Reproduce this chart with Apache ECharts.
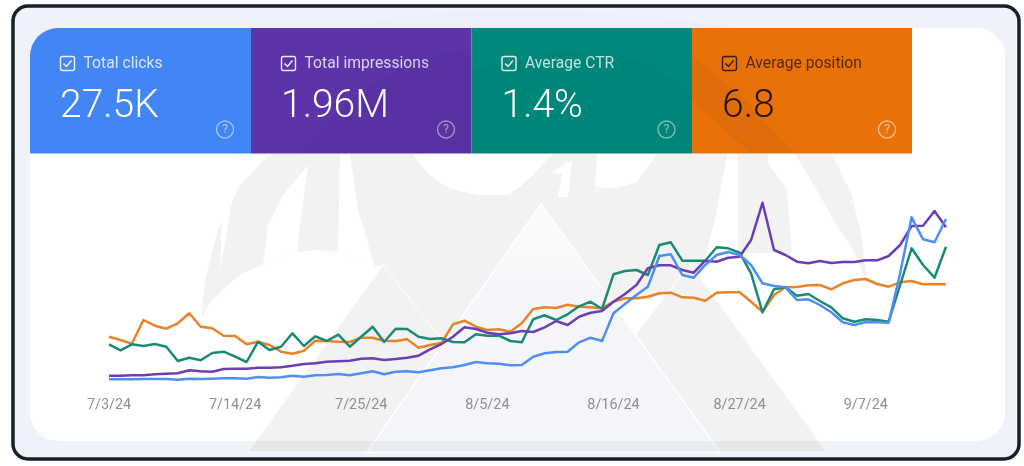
<!DOCTYPE html>
<html>
<head>
<meta charset="utf-8">
<title>Search performance</title>
<script src="https://cdn.jsdelivr.net/npm/echarts@6/dist/echarts.min.js"></script>
<style>
html,body{margin:0;padding:0;background:#fff}
#main{width:1024px;height:466px}
</style>
</head>
<body>
<div id="main"></div>
<script>
// dates on the x axis, one per day
var dates = ['7/3/24','7/4/24','7/5/24','7/6/24','7/7/24','7/8/24','7/9/24','7/10/24','7/11/24','7/12/24','7/13/24','7/14/24','7/15/24','7/16/24','7/17/24','7/18/24','7/19/24','7/20/24','7/21/24','7/22/24','7/23/24','7/24/24','7/25/24','7/26/24','7/27/24','7/28/24','7/29/24','7/30/24','7/31/24',
'8/1/24','8/2/24','8/3/24','8/4/24','8/5/24','8/6/24','8/7/24','8/8/24','8/9/24','8/10/24','8/11/24','8/12/24','8/13/24','8/14/24','8/15/24','8/16/24','8/17/24','8/18/24','8/19/24','8/20/24','8/21/24','8/22/24','8/23/24','8/24/24','8/25/24','8/26/24','8/27/24','8/28/24','8/29/24','8/30/24','8/31/24',
'9/1/24','9/2/24','9/3/24','9/4/24','9/5/24','9/6/24','9/7/24','9/8/24','9/9/24','9/10/24','9/11/24','9/12/24','9/13/24','9/14/24'];

// all on one hidden scale
var clicks = [20.7,20.7,20.7,21,21,21,20.3,21.3,21,21.3,21.7,21.7,21.3,23,22.3,22.7,24.3,23.3,24.7,25,26,24.7,26.7,28.7,25.7,28.3,28.7,27.7,29.7,31.7,32.7,35,38,36.7,36.3,34.7,35,43.3,46.7,48,48.3,57.7,62.3,59,86.7,96,105,113.3,144,145.7,125,122.3,135,145,148,145,135,116.7,114,112.7,100,100.7,95,87.7,77.7,75,78,77.7,77.3,126.7,182.7,160.7,157.7,181];
var impressions = [24.3,24.3,24.7,24.7,25.7,26.3,26.7,29.7,28.7,28.3,31,31.3,31.3,32.3,32.3,32.7,34.3,36,36.7,38.3,38.7,39.3,41.3,41.7,40,41,42.3,44.3,50.7,56,63.3,72.7,71,67.3,65.7,66.7,69,68,72.7,79,75,83.3,87.3,89,98.3,106,115,131.7,134.7,134.7,130,127.3,139.3,138.3,142.3,143.3,160,197.3,150,145,138.3,136.7,139,137,138,138,139.7,139.7,144,155,174,174.3,189,172.7];
var ctr = [55.7,49.7,55.7,54,56,53.3,39,42.3,39.7,47,48.3,43.3,38,58.3,50,53.3,66.7,54,63.7,59,65.3,53.3,63.3,73.3,58,71.3,71,63.3,61,61.7,58,57.7,65.7,64.3,64.3,59,57.7,80.7,84.7,80,85.7,93.7,98.3,91,125.7,129,130,125,155,157.7,139.3,139.3,139.3,152.7,151.7,147.3,126.7,87.7,110.7,112.7,104.3,106,99,92.7,81.7,78.3,80.7,80,78.3,115,151.7,135,122.3,153.3];
var position = [63.3,60,56.3,80,74.3,71.3,76.7,86.7,73.3,71.7,64.3,64,55.7,58.3,55,48.3,46.3,49.3,59.3,59,58.3,58,62.3,62.3,59.3,59,60.7,52.3,55,57,75.7,79.3,73.3,70,70.7,68.3,76.7,91,92.7,92,95.3,93.3,92.7,91.7,98.3,101.7,101.7,103.3,106.7,107.3,102.7,102.3,99.3,107.3,107.7,107.7,98.3,88.3,105,112.7,113,114.7,115,110.7,116.7,120,121,116,113.3,117.7,119,115.7,116,115.7];

var cardLabels = ['Total clicks','Total impressions','Average CTR','Average position'];
var cardValues = ['27.5K','1.96M','1.4%','6.8'];

var FONT = 'Roboto, sans-serif';
var cardColors = ['#4285f4','#5c33a9','#00897b','#e8710a'];
var cardX = [30,251,471.5,692];
var cardW = [221,220.5,220.5,220];
var inkColors = ['#fff','#fff','#fff','#2a1500'];

function poly(points, fill, extra){
    var o = {type:'polygon', silent:true, shape:{points:points}, style:{fill:fill}};
    for (var k in extra) o[k] = extra[k];
    return o;
}

var GREY = '#f2f2f3';
var graphics = [
    // outer frame and white panel
    {type:'rect', silent:true, shape:{x:13,y:6,width:1006,height:453,r:15},
     style:{fill:'#eff2f8',stroke:'#17212b',lineWidth:3.5}},
    {type:'rect', silent:true, shape:{x:30,y:28,width:975,height:413,r:28}, style:{fill:'#fff'}},

    // background watermark
    poly([[270,154],[240,185],[218,230],[205,280],[201,318],[212,300],[230,283],[245,272],[263,265],[297,252],[318,250],[338,252],[375,267],[383,265],[440,340],[541,300],[650,300],[700,277],[740,253],[792,253],[787,190],[768,163],[768,154]], GREY),
    poly([[795,154],[832,154],[852,195],[862,240],[867,283],[852,248],[835,222],[812,182]], GREY),
    poly([[235,182],[222,215],[220,272],[228,225]], '#fff'),
    poly([[308,165],[283,195],[268,225],[263,265],[297,252],[300,225]], '#fff'),
    poly([[340,154],[350,154],[358,210],[375,267],[338,252]], '#fff'),
    poly([[413,154],[421,166],[430,175],[442,184],[455,190],[480,195],[507,195],[520,187],[530,178],[552,154]], '#fff'),
    poly([[550,173],[572,160],[568,197],[558,197],[562,174]], '#fff'),
    poly([[597,154],[595,187],[617,188],[637,182],[657,154]], '#fff'),
    poly([[727,154],[738,154],[738,253],[700,277],[716,215]], '#fff'),

    // small triangle, right one, then the big pale one on top
    {type:'polygon', silent:true, shape:{points:[[383,265],[248,452],[530,452]]}, style:{fill:GREY,stroke:'#fff',lineWidth:1}},
    {type:'polygon', silent:true, shape:{points:[[690,264],[827,452],[545,452]]}, style:{fill:GREY,stroke:'#fff',lineWidth:1}},
    {type:'polygon', silent:true, shape:{points:[[541,204],[367,452],[720,452]]},
     style:{stroke:'#fff',lineWidth:1.5,fill:{type:'linear',x:0,y:0,x2:0,y2:1,colorStops:[{offset:0,color:'#fbfbfc'},{offset:0.3,color:'#f7f8f9'},{offset:0.32,color:'#f4f6fa'},{offset:1,color:'#f3f5f9'}]}}},
    poly([[256,441],[248,452],[827,452],[819,441]], 'rgba(30,50,80,0.055)'),
    poly([[350,28],[400,16],[470,12],[560,12],[650,16],[740,28]], 'rgba(0,0,0,0.012)')
];

// metric cards
cardLabels.forEach(function(label, i){
    var x = cardX[i], ink = inkColors[i], boxX = x + 30;
    graphics.push({type:'rect', silent:true,
        shape:{x:x,y:28,width:cardW[i],height:125.5,r:i===0?[28,0,0,0]:0},
        style:{fill:cardColors[i]}});
    graphics.push({type:'rect', silent:true, shape:{x:boxX+0.5,y:56.5,width:14,height:14,r:2},
        style:{fill:'none',stroke:ink,lineWidth:1.4,opacity:0.9}});
    graphics.push({type:'polyline', silent:true, shape:{points:[[boxX+3.5,63.5],[boxX+6.5,66.5],[boxX+11.5,60.5]]},
        style:{fill:'none',stroke:ink,lineWidth:1.5,opacity:0.9}});
    graphics.push({type:'text', silent:true, x:boxX+23.5, y:64.5,
        style:{text:label,font:'15.7px '+FONT,fill:ink,opacity:0.78,verticalAlign:'middle',textAlign:'left'}});
    graphics.push({type:'text', silent:true, x:boxX, y:107,
        style:{text:cardValues[i],font:'300 39px '+FONT,fill:ink,verticalAlign:'middle',textAlign:'left'}});
    graphics.push({type:'circle', silent:true, shape:{cx:x+195,cy:129.5,r:8.5},
        style:{fill:'none',stroke:'#fff',lineWidth:1.4,opacity:0.5}});
    graphics.push({type:'text', silent:true, x:x+195, y:130,
        style:{text:'?',font:'12px '+FONT,fill:'#fff',opacity:0.55,verticalAlign:'middle',textAlign:'center'}});
});

// faint watermark showing through the cards
graphics.push(poly([[300,153],[350,100],[410,62],[471,48],[471,153]], 'rgba(0,0,0,0.04)'));
graphics.push(poly([[692,55],[740,95],[795,153],[750,153],[692,100]], 'rgba(0,0,0,0.035)'));
graphics.push(poly([[471.5,70],[560,50],[640,60],[692,90],[692,153],[471.5,153]], 'rgba(0,0,0,0.02)'));

function lineSeries(name, data, color){
    return {name:name, type:'line', data:data, symbol:'none', smooth:false,
        lineStyle:{color:color,width:2.5,join:'round'}, itemStyle:{color:color}};
}

var myChart = echarts.init(document.getElementById('main'));
var option = {
    animation:false,
    backgroundColor:'#fff',
    graphic:{elements:graphics},
    grid:{left:109,right:78,top:190,height:200,containLabel:false},
    xAxis:{
        type:'category', data:dates, boundaryGap:false, z:5,
        axisLine:{show:false}, axisTick:{show:false}, splitLine:{show:false},
        axisLabel:{interval:10,margin:8,color:'#8f8f8f',fontFamily:FONT,fontSize:14.4,hideOverlap:false}
    },
    yAxis:{type:'value',min:10,max:210,show:false,splitLine:{show:false}},
    series:[
        lineSeries('Average position', position, '#e8832a'),
        lineSeries('Average CTR', ctr, '#1a8a72'),
        lineSeries('Total impressions', impressions, '#6a3fb5'),
        lineSeries('Total clicks', clicks, '#4f8ef2')
    ]
};
myChart.setOption(option);
</script>
</body>
</html>
